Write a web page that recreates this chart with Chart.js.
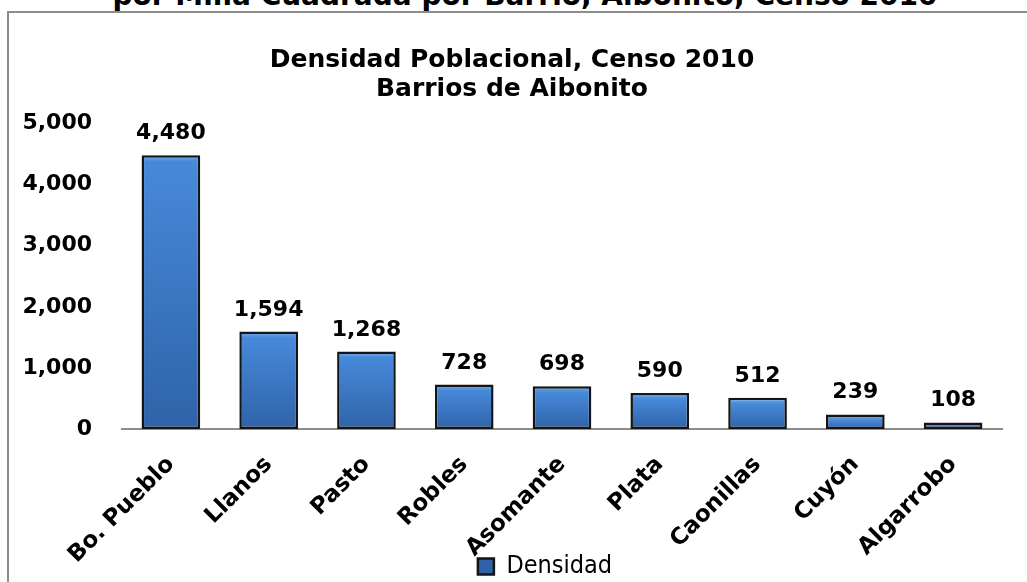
<!DOCTYPE html>
<html>
<head>
<meta charset="utf-8">
<script src="https://cdn.jsdelivr.net/npm/chart.js@4/dist/chart.umd.min.js"></script>
<style>
  html, body { margin: 0; padding: 0; background: #fff; overflow: hidden; }
  #top { position: absolute; left: 0; width: 1050px; top: -18px; text-align: center;
         font: bold 28px "DejaVu Sans"; color: #000; white-space: nowrap; line-height: 28px; }
  #frame { position: absolute; left: 7px; top: 11px; width: 1100px; height: 700px;
           border-left: 2px solid #8c8c8c; border-top: 2px solid #8c8c8c; }
  #wrap { position: absolute; left: 9px; top: 13px; width: 1002px; height: 569px; }
</style>
</head>
<body>
<div id="top">por Milla Cuadrada por Barrio, Aibonito, Censo 2010</div>
<div id="frame"></div>
<div id="wrap"><canvas id="chart"></canvas></div>
<script>
const barrios = ["Bo. Pueblo", "Llanos", "Pasto", "Robles", "Asomante", "Plata", "Caonillas", "Cuyón", "Algarrobo"];
const densidad = [4480, 1594, 1268, 728, 698, 590, 512, 239, 108];
const yTicks = [0, 1000, 2000, 3000, 4000, 5000];

const BOLD = "DejaVu Sans";
const NARROW = "DejaVu Sans Condensed";
const fmt = (v) => v.toLocaleString("en-US");

// blue bevel-ish fill, lighter strip at the top of each bar
function barFill(c) {
  const chart = c.chart;
  if (!chart.chartArea || c.type !== "data") return "#3b78c4";
  const y = chart.scales.y;
  const top = y.getPixelForValue(c.raw);
  const base = y.getPixelForValue(0);
  const h = Math.max(base - top, 1);
  const g = chart.ctx.createLinearGradient(0, top, 0, base);
  g.addColorStop(0, "#76b4f2");
  g.addColorStop(Math.min(6 / h, 0.45), "#4789da");
  g.addColorStop(1, "#2f63a8");
  return g;
}

const valueLabels = {
  id: "valueLabels",
  afterDatasetsDraw(chart) {
    const ctx = chart.ctx;
    const meta = chart.getDatasetMeta(0);
    ctx.save();
    ctx.font = "bold 22px '" + BOLD + "'";
    ctx.fillStyle = "#000";
    ctx.textAlign = "center";
    ctx.textBaseline = "alphabetic";
    meta.data.forEach((bar, i) => {
      ctx.fillText(fmt(densidad[i]), bar.x, bar.y - 16);
    });
    ctx.restore();
  },
};

// legend sits a bit right of centre and lower in the original
const legendShift = {
  id: "legendShift",
  afterLayout(chart) {
    const lg = chart.legend;
    lg.left += 33; lg.right += 33;
    lg.top += 7; lg.bottom += 7;
  },
};

new Chart(document.getElementById("chart"), {
  type: "bar",
  data: {
    labels: barrios,
    datasets: [
      {
        label: "Densidad",
        data: densidad,
        backgroundColor: barFill,
        borderColor: "#151515",
        borderWidth: 2.5,
        borderSkipped: false,
        categoryPercentage: 1,
        barPercentage: 0.6,
      },
    ],
  },
  options: {
    responsive: true,
    maintainAspectRatio: false,
    animation: false,
    layout: { padding: { left: 13, right: 9, top: 0, bottom: 0 } },
    plugins: {
      title: {
        display: true,
        text: ["Densidad Poblacional, Censo 2010", "Barrios de Aibonito"],
        color: "#000",
        font: { family: BOLD, size: 25, weight: "bold", lineHeight: 1.15 },
        padding: { top: 33, bottom: 20 },
      },
      legend: {
        position: "bottom",
        labels: {
          color: "#000",
          font: { family: NARROW, size: 25 },
          boxWidth: 16,
          boxHeight: 16,
          padding: 6,
        },
      },
      tooltip: { enabled: false },
    },
    scales: {
      x: {
        grid: { display: false },
        border: { display: true, color: "#8c8c8c", width: 2 },
        ticks: {
          color: "#000",
          font: { family: BOLD, size: 23, weight: "bold" },
          minRotation: 45,
          maxRotation: 45,
          padding: 14,
        },
        // rotated labels hang down past the axis box like the original,
        // and should not push the plot to the right
        afterFit: (s) => {
          s.height = 112;
          s.paddingLeft = 0;
          s.paddingRight = 0;
          s.getPadding = () => ({ left: 0, top: 0, right: 0, bottom: 0 });
          s._computeLabelArea = () => undefined;
        },
      },
      y: {
        min: 0,
        max: 5000,
        grid: { display: false, drawTicks: false },
        border: { display: false },
        afterBuildTicks: (s) => { s.ticks = yTicks.map((v) => ({ value: v })); },
        afterFit: (s) => { s.width = 100; },
        ticks: {
          color: "#000",
          font: { family: BOLD, size: 22, weight: "bold" },
          padding: 30,
          callback: (v) => fmt(v),
        },
      },
    },
  },
  plugins: [valueLabels, legendShift],
});
</script>
</body>
</html>
